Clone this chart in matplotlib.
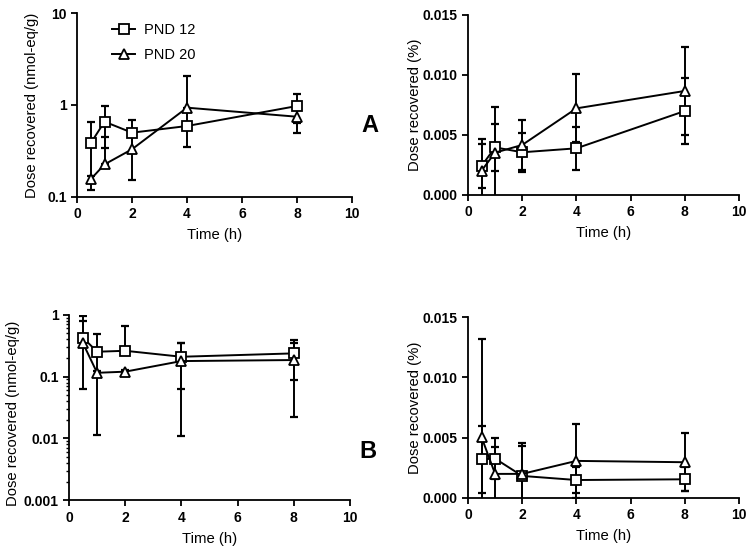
import matplotlib
matplotlib.use("Agg")
import matplotlib.pyplot as plt
import numpy as np
from matplotlib.lines import Line2D

plt.rcParams['font.family'] = ['Liberation Sans', 'DejaVu Sans']

time_h = [0.5, 1, 2, 4, 8]

# Panel A - concentration (nmol-eq/g)
A_conc_p12 = [0.383, 0.658, 0.499, 0.59, 0.975]
A_conc_p12_sd = [0.265, 0.317, 0.187, 0.24, 0.345]
A_conc_p20 = [0.155, 0.225, 0.329, 0.935, 0.745]
A_conc_p20_sd = [0.015, 0.226, 0.177, 1.155, 0.246]
# Panel A - percent dose
A_pct_p12 = [0.00242, 0.00397, 0.00356, 0.00389, 0.0070]
A_pct_p12_sd = [0.0018, 0.00194, 0.00163, 0.0018, 0.00275]
A_pct_p20 = [0.00203, 0.00353, 0.00417, 0.00722, 0.00867]
A_pct_p20_sd = [0.00264, 0.00383, 0.00208, 0.00284, 0.0037]
# Panel B - concentration
B_conc_p12 = [0.424, 0.252, 0.261, 0.209, 0.237]
B_conc_p12_sd = [0.36, 0.2406, 0.40, 0.145, 0.15]
B_conc_p20 = [0.344, 0.115, 0.12, 0.178, 0.185]
B_conc_p20_sd = [0.616, 0.01, 0.01, 0.167, 0.163]
# Panel B - percent dose
B_pct_p12 = [0.0032, 0.00325, 0.00181, 0.00147, 0.00153]
B_pct_p12_sd = [0.0028, 0.0017, 0.0027, 0.0011, 0.001]
B_pct_p20 = [0.00503, 0.00198, 0.00198, 0.00306, 0.00295]
B_pct_p20_sd = [0.0082, 0.0022, 0.0023, 0.00306, 0.00242]

series_labels = ['PND 12', 'PND 20']
x_ticks = [0, 2, 4, 6, 8, 10]
A_log_ticks = [0.1, 1, 10]
A_log_labels = ['0.1', '1', '10']
B_log_ticks = [0.001, 0.01, 0.1, 1]
B_log_labels = ['0.001', '0.01', '0.1', '1']
pct_ticks = [0.0, 0.005, 0.010, 0.015]
pct_labels = ['0.000', '0.005', '0.010', '0.015']

fig = plt.figure(figsize=(7.54, 5.54), dpi=100)
W, H = 754, 554

def add_ax(l, r, t, b):
    return fig.add_axes([l / W, 1 - b / H, (r - l) / W, (b - t) / H])

axA1 = add_ax(77, 352, 13.3, 196.7)
axA2 = add_ax(468, 739, 15, 195)
axB1 = add_ax(69, 350, 314.7, 500.3)
axB2 = add_ax(468, 739, 317.3, 497.7)

LABEL_FS = 10.7
TICK_FS = 10

def style(ax):
    for s in ['top', 'right']:
        ax.spines[s].set_visible(False)
    for s in ['left', 'bottom']:
        ax.spines[s].set_linewidth(1.3)
    ax.tick_params(which='major', length=4, width=1.3, direction='out', labelsize=TICK_FS)
    ax.tick_params(which='minor', length=2.2, width=1.0, direction='out')
    ax.set_xlim(0, 10)
    ax.set_xticks(x_ticks)
    ax.set_xticklabels([str(v) for v in x_ticks], fontweight='bold')
    ax.set_xlabel('Time (h)', fontsize=LABEL_FS, labelpad=5)

def plot_series(ax, y, sd, marker, logscale):
    y = np.asarray(y)
    sd = np.asarray(sd)
    if logscale:
        lower = np.where(y - sd > 0, sd, 0.0)
    else:
        lower = sd
    ax.errorbar(time_h, y, yerr=[lower, sd], fmt='none', ecolor='black',
                elinewidth=1.4, capsize=2.6, capthick=1.6, zorder=2)
    ax.plot(time_h, y, color='black', lw=1.4, marker=marker, ms=7.3,
            mfc='white', mec='black', mew=1.3, zorder=3)

def panel(ax, p12, s12, p20, s20, logscale):
    style(ax)
    plot_series(ax, p12, s12, 's', logscale)
    plot_series(ax, p20, s20, '^', logscale)

panel(axA1, A_conc_p12, A_conc_p12_sd, A_conc_p20, A_conc_p20_sd, True)
axA1.set_yscale('log')
axA1.set_ylim(0.1, 10)
axA1.set_yticks(A_log_ticks)
axA1.set_yticklabels(A_log_labels, fontweight='bold')
axA1.yaxis.set_minor_locator(matplotlib.ticker.NullLocator())
axA1.set_ylabel('Dose recovered (nmol-eq/g)', fontsize=LABEL_FS)
axA1.yaxis.set_label_coords(-0.138, 0.5)

panel(axA2, A_pct_p12, A_pct_p12_sd, A_pct_p20, A_pct_p20_sd, False)
axA2.set_ylim(0, 0.015)
axA2.set_yticks(pct_ticks)
axA2.set_yticklabels(pct_labels, fontweight='bold')
axA2.set_ylabel('Dose recovered (%)', fontsize=LABEL_FS)
axA2.yaxis.set_label_coords(-0.169, 0.5)

panel(axB1, B_conc_p12, B_conc_p12_sd, B_conc_p20, B_conc_p20_sd, True)
axB1.set_yscale('log')
axB1.set_ylim(0.001, 1)
axB1.set_yticks(B_log_ticks)
axB1.set_yticklabels(B_log_labels, fontweight='bold')
axB1.yaxis.set_minor_locator(matplotlib.ticker.LogLocator(base=10, subs=np.arange(2, 10)))
axB1.yaxis.set_minor_formatter(matplotlib.ticker.NullFormatter())
axB1.set_ylabel('Dose recovered (nmol-eq/g)', fontsize=LABEL_FS)
axB1.yaxis.set_label_coords(-0.174, 0.47)

panel(axB2, B_pct_p12, B_pct_p12_sd, B_pct_p20, B_pct_p20_sd, False)
axB2.set_ylim(0, 0.015)
axB2.set_yticks(pct_ticks)
axB2.set_yticklabels(pct_labels, fontweight='bold')
axB2.set_ylabel('Dose recovered (%)', fontsize=LABEL_FS)
axB2.yaxis.set_label_coords(-0.17, 0.5)

handles = [Line2D([], [], color='black', lw=1.4, marker=m, ms=7.3, mfc='white',
                  mec='black', mew=1.3) for m in ['s', '^']]
axA1.legend(handles, series_labels, loc='upper left', bbox_to_anchor=(0.08, 1.02),
            frameon=False, fontsize=10.5, handlelength=1.6, handletextpad=0.6,
            labelspacing=0.75)

fig.text(370 / W, 1 - 125 / H, 'A', fontsize=17, fontweight='bold', ha='center', va='center')
fig.text(368 / W, 1 - 452 / H, 'B', fontsize=17, fontweight='bold', ha='center', va='center')

fig.savefig('out.png', dpi=100)
